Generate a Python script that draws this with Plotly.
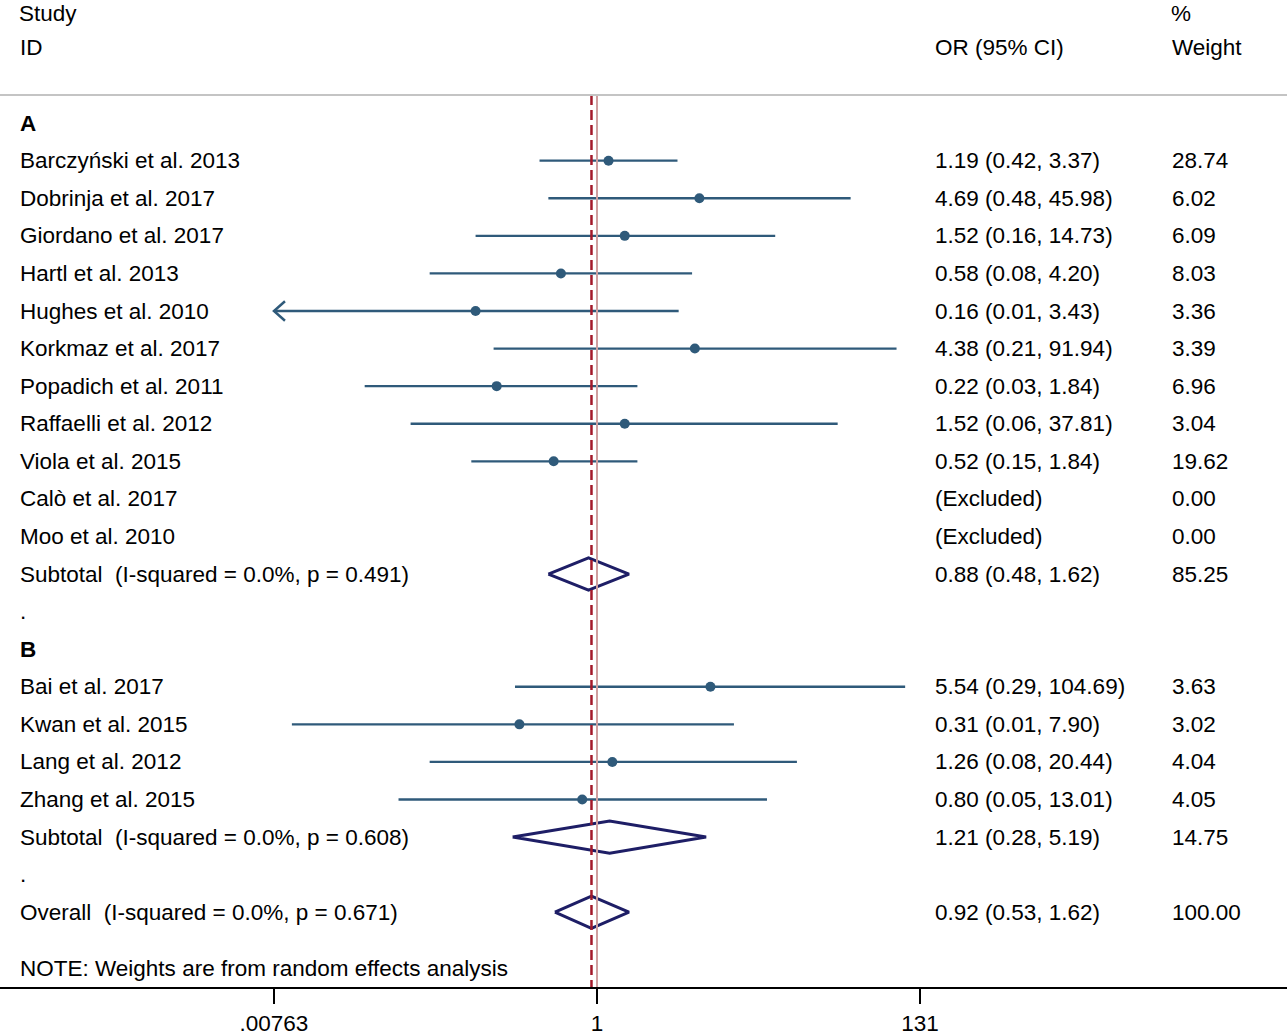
import numpy as np
import plotly.graph_objects as go

# ---- data ----
group_a_studies = ["Barczyński et al. 2013", "Dobrinja et al. 2017", "Giordano et al. 2017",
                   "Hartl et al. 2013", "Hughes et al. 2010", "Korkmaz et al. 2017",
                   "Popadich et al. 2011", "Raffaelli et al. 2012", "Viola et al. 2015",
                   "Calò et al. 2017", "Moo et al. 2010"]
group_a_or = [1.19, 4.69, 1.52, 0.58, 0.16, 4.38, 0.22, 1.52, 0.52, None, None]
group_a_lo = [0.42, 0.48, 0.16, 0.08, 0.0075, 0.21, 0.03, 0.06, 0.15, None, None]
group_a_hi = [3.37, 45.98, 14.73, 4.20, 3.43, 91.94, 1.84, 37.81, 1.84, None, None]
group_a_text = ["1.19 (0.42, 3.37)", "4.69 (0.48, 45.98)", "1.52 (0.16, 14.73)",
                "0.58 (0.08, 4.20)", "0.16 (0.01, 3.43)", "4.38 (0.21, 91.94)",
                "0.22 (0.03, 1.84)", "1.52 (0.06, 37.81)", "0.52 (0.15, 1.84)",
                "(Excluded)", "(Excluded)"]
group_a_weight = ["28.74", "6.02", "6.09", "8.03", "3.36", "3.39", "6.96", "3.04",
                  "19.62", "0.00", "0.00"]

group_b_studies = ["Bai et al. 2017", "Kwan et al. 2015", "Lang et al. 2012", "Zhang et al. 2015"]
group_b_or = [5.54, 0.31, 1.26, 0.80]
group_b_lo = [0.29, 0.01, 0.08, 0.05]
group_b_hi = [104.69, 7.90, 20.44, 13.01]
group_b_text = ["5.54 (0.29, 104.69)", "0.31 (0.01, 7.90)", "1.26 (0.08, 20.44)",
                "0.80 (0.05, 13.01)"]
group_b_weight = ["3.63", "3.02", "4.04", "4.05"]

pooled_labels = ["Subtotal  (I-squared = 0.0%, p = 0.491)",
                 "Subtotal  (I-squared = 0.0%, p = 0.608)",
                 "Overall  (I-squared = 0.0%, p = 0.671)"]
pooled_or = [0.88, 1.21, 0.92]
pooled_lo = [0.48, 0.28, 0.53]
pooled_hi = [1.62, 5.19, 1.62]
pooled_text = ["0.88 (0.48, 1.62)", "1.21 (0.28, 5.19)", "0.92 (0.53, 1.62)"]
pooled_weight = ["85.25", "14.75", "100.00"]

tick_vals = [0.00763, 1, 131]
tick_text = [".00763", "1", "131"]
note = "NOTE: Weights are from random effects analysis"

# ---- layout helpers ----
W, H = 1287, 1036
FONT = "Arial, Liberation Sans, sans-serif"
FS = 22.5
LINE_COL = "#2f5a7a"
DIAMOND_COL = "#1e1e66"
x_min = tick_vals[0]

# row index for each text line (Stata metan draws one row per line)
rows_a = list(range(0, len(group_a_studies)))
row_sub_a = len(group_a_studies)
row_b_head = row_sub_a + 2
rows_b = list(range(row_b_head + 1, row_b_head + 1 + len(group_b_studies)))
row_sub_b = rows_b[-1] + 1
row_overall = row_sub_b + 2
pooled_rows = [row_sub_a, row_sub_b, row_overall]

fig = go.Figure()

# confidence intervals and point estimates
all_or = group_a_or + group_b_or
all_lo = group_a_lo + group_b_lo
all_hi = group_a_hi + group_b_hi
all_rows = rows_a + rows_b
cx, cy, px, py = [], [], [], []
for r, o, lo, hi in zip(all_rows, all_or, all_lo, all_hi):
    if o is None:
        continue
    cx += [max(lo, x_min), hi, None]
    cy += [r, r, None]
    px.append(o)
    py.append(r)
    if lo < x_min:
        # open arrow head where the interval runs off the scale
        arm = x_min * 10 ** (11 / 152.5)
        fig.add_trace(go.Scatter(x=[arm, x_min, arm], y=[r - 0.26, r, r + 0.26],
                                 mode="lines", line=dict(color=LINE_COL, width=2.5),
                                 hoverinfo="skip", showlegend=False))
fig.add_trace(go.Scatter(x=cx, y=cy, mode="lines", line=dict(color=LINE_COL, width=2.3),
                         hoverinfo="skip", showlegend=False))
fig.add_trace(go.Scatter(x=px, y=py, mode="markers",
                         marker=dict(color=LINE_COL, size=10), showlegend=False))

# pooled diamonds
for r, o, lo, hi in zip(pooled_rows, pooled_or, pooled_lo, pooled_hi):
    h = 0.43
    fig.add_trace(go.Scatter(x=[lo, o, hi, o, lo], y=[r, r - h, r, r + h, r],
                             mode="lines", line=dict(color=DIAMOND_COL, width=3),
                             hoverinfo="skip", showlegend=False))

# vertical lines: null effect and overall estimate
y_top, y_bot = -1.75, 22.5
fig.add_trace(go.Scatter(x=[1, 1], y=[y_top, y_bot], mode="lines",
                         line=dict(color="#cf9f9f", width=2), hoverinfo="skip", showlegend=False))
fig.add_trace(go.Scatter(x=[pooled_or[2]] * 2, y=[y_top, y_bot], mode="lines",
                         line=dict(color="#a3192a", width=2.5, dash="10px,5px"),
                         hoverinfo="skip", showlegend=False))


def px2paper(x):
    return x / W


def add_text(x_px, row, text, bold=False):
    fig.add_annotation(x=px2paper(x_px), xref="paper", y=row, yref="y",
                       text=f"<b>{text}</b>" if bold else text, showarrow=False,
                       xanchor="left", yanchor="middle",
                       font=dict(family=FONT, size=FS, color="black"))


def add_top_text(x_px, text):
    # first header line sits right at the top edge of the page
    fig.add_annotation(x=px2paper(x_px), xref="paper", y=1, yref="paper",
                       text=text, showarrow=False, xanchor="left", yanchor="top",
                       borderpad=0, font=dict(family=FONT, size=FS, color="black"))


COL_ID, COL_OR, COL_W = 18, 933, 1170

# headers
add_top_text(COL_ID, "Study")
add_text(COL_ID, -3, "ID")
add_text(COL_OR, -3, "OR (95% CI)")
add_top_text(COL_W, "%")
add_text(COL_W, -3, "Weight")
fig.add_shape(type="line", xref="paper", x0=0, x1=1, yref="y", y0=-1.75, y1=-1.75,
              line=dict(color="#c4c4c4", width=2))

add_text(COL_ID, -1, "A", bold=True)
for r, s, t, w in zip(rows_a, group_a_studies, group_a_text, group_a_weight):
    add_text(COL_ID, r, s)
    add_text(COL_OR, r, t)
    add_text(COL_W, r, w)

add_text(COL_ID, row_sub_a + 1, ".")
add_text(COL_ID, row_b_head, "B", bold=True)
for r, s, t, w in zip(rows_b, group_b_studies, group_b_text, group_b_weight):
    add_text(COL_ID, r, s)
    add_text(COL_OR, r, t)
    add_text(COL_W, r, w)

add_text(COL_ID, row_sub_b + 1, ".")
for r, s, t, w in zip(pooled_rows, pooled_labels, pooled_text, pooled_weight):
    add_text(COL_ID, r, s)
    add_text(COL_OR, r, t)
    add_text(COL_W, r, w)

add_text(COL_ID, row_overall + 1.5, note)

# axes: row index maps to 37.65 px per row, first study row at y=161 px
row_px, row0_px, axis_px = 37.65, 161, 989
x_px1 = 597
x_scale = (920 - 597) / np.log10(131)
fig.update_layout(
    width=W, height=H, margin=dict(l=0, r=0, t=0, b=0),
    paper_bgcolor="white", plot_bgcolor="white",
    xaxis=dict(type="log", range=[(0 - x_px1) / x_scale, (W - x_px1) / x_scale],
               tickvals=tick_vals, ticktext=tick_text, ticks="outside", ticklen=15,
               tickwidth=2, tickcolor="black", showline=True, linecolor="black",
               linewidth=2, showgrid=False, zeroline=False,
               tickfont=dict(family=FONT, size=FS, color="black")),
    yaxis=dict(domain=[(H - axis_px) / H, 1],
               range=[(axis_px - row0_px) / row_px, (0 - row0_px) / row_px],
               visible=False, showgrid=False, zeroline=False),
    showlegend=False,
)

# drop the browser's default 8px body margin so the figure fills the window
fig.write_html("out.html", config={"displayModeBar": False},
               post_script="document.body.style.margin = '0px';")
